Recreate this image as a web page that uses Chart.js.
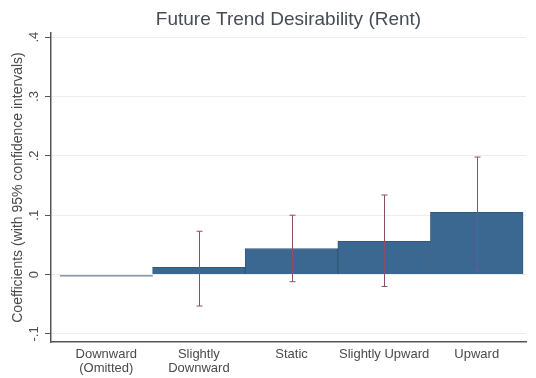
<!DOCTYPE html>
<html lang="en">
<head>
  <meta charset="UTF-8">
  <title>Future Trend Desirability (Rent)</title>
  <script src="https://cdn.jsdelivr.net/npm/chart.js"></script>
  <style>
    body { margin: 0; background: #fff; }
  </style>
</head>
<body>
  <canvas id="trendChart" width="536" height="378"></canvas>
  <script>
    // categories and coefficients
    const categories = [
      ['Downward', '(Omitted)'],
      ['Slightly', 'Downward'],
      'Static',
      'Slightly Upward',
      'Upward'
    ];
    const positions = [0, 1, 2, 3, 4];
    const coefs = [-0.003, 0.012, 0.044, 0.056, 0.105];
    const ciLow = [null, -0.053, -0.012, -0.020, 0.005];
    const ciHigh = [null, 0.073, 0.100, 0.134, 0.198];
    const yTicks = [-0.1, 0, 0.1, 0.2, 0.3, 0.4];

    const barColors = ['#8a99a8', '#3b6890', '#3b6890', '#3b6890', '#3b6890'];
    const barEdges = ['#8a99a8', '#30597c', '#30597c', '#30597c', '#30597c'];
    const fontFam = 'Arial, "Liberation Sans", sans-serif';

    function fmt(v) {
      if (Math.abs(v) < 1e-9) return '0';
      let s = v.toFixed(1);
      return s.replace('0.', '.');
    }

    // confidence interval whiskers
    const ciPlugin = {
      id: 'ciBars',
      afterDatasetsDraw(chart) {
        const ctx = chart.ctx;
        const xs = chart.scales.x, ys = chart.scales.y;
        ctx.save();
        ctx.strokeStyle = '#8c5064';
        ctx.lineWidth = 1;
        positions.forEach((p, i) => {
          if (ciLow[i] == null) return;
          const x = Math.round(xs.getPixelForValue(p)) + 0.5;
          const y1 = ys.getPixelForValue(ciLow[i]);
          const y2 = ys.getPixelForValue(ciHigh[i]);
          ctx.beginPath();
          ctx.moveTo(x, y1); ctx.lineTo(x, y2);
          ctx.moveTo(x - 3, y1); ctx.lineTo(x + 3, y1);
          ctx.moveTo(x - 3, y2); ctx.lineTo(x + 3, y2);
          ctx.stroke();
        });
        ctx.restore();
      }
    };

    // title centred over the plot region
    const titlePlugin = {
      id: 'plotTitle',
      afterDraw(chart) {
        const ctx = chart.ctx;
        const a = chart.chartArea;
        ctx.save();
        ctx.fillStyle = '#464c55';
        ctx.font = '19px ' + fontFam;
        ctx.textAlign = 'center';
        ctx.textBaseline = 'alphabetic';
        ctx.fillText('Future Trend Desirability (Rent)', (a.left + a.right) / 2, 25);
        ctx.restore();
      }
    };

    const ctx = document.getElementById('trendChart').getContext('2d');
    new Chart(ctx, {
      type: 'bar',
      data: {
        datasets: [{
          data: positions.map((p, i) => ({ x: p, y: coefs[i] })),
          backgroundColor: barColors,
          borderColor: barEdges,
          borderWidth: 1,
          barPercentage: 1,
          categoryPercentage: 1
        }]
      },
      options: {
        responsive: false,
        animation: false,
        layout: { padding: { top: 33, right: 10, left: 0, bottom: 0 } },
        plugins: {
          legend: { display: false },
          tooltip: { enabled: false }
        },
        scales: {
          x: {
            type: 'linear',
            offset: false,
            min: -0.597,
            max: 4.532,
            afterBuildTicks: s => { s.ticks = positions.map(v => ({ value: v })); },
            afterFit: s => { s.height = 36; },
            grid: { color: 'transparent', drawTicks: false, offset: false },
            border: { display: true, color: '#555', width: 1.5 },
            ticks: {
              padding: 5,
              color: '#4a4a4a',
              font: { family: fontFam, size: 13, lineHeight: 1.1 },
              maxRotation: 0,
              autoSkip: false,
              callback: v => categories[v]
            }
          },
          y: {
            min: -0.1136,
            max: 0.407,
            afterBuildTicks: s => { s.ticks = yTicks.map(v => ({ value: v })); },
            afterFit: s => { s.width = 51; },
            grid: { color: '#ececec', tickLength: 6, tickColor: '#555' },
            border: { display: true, color: '#555', width: 1.5 },
            ticks: {
              padding: 3,
              color: '#4a4a4a',
              minRotation: 90,
              maxRotation: 90,
              crossAlign: 'center',
              font: { family: fontFam, size: 13 },
              callback: v => fmt(v)
            },
            title: {
              display: true,
              text: 'Coefficients (with 95% confidence intervals)',
              color: '#4a4a4a',
              font: { family: fontFam, size: 14 },
              padding: { top: 10, bottom: 0 }
            }
          }
        }
      },
      plugins: [ciPlugin, titlePlugin]
    });
  </script>
</body>
</html>
